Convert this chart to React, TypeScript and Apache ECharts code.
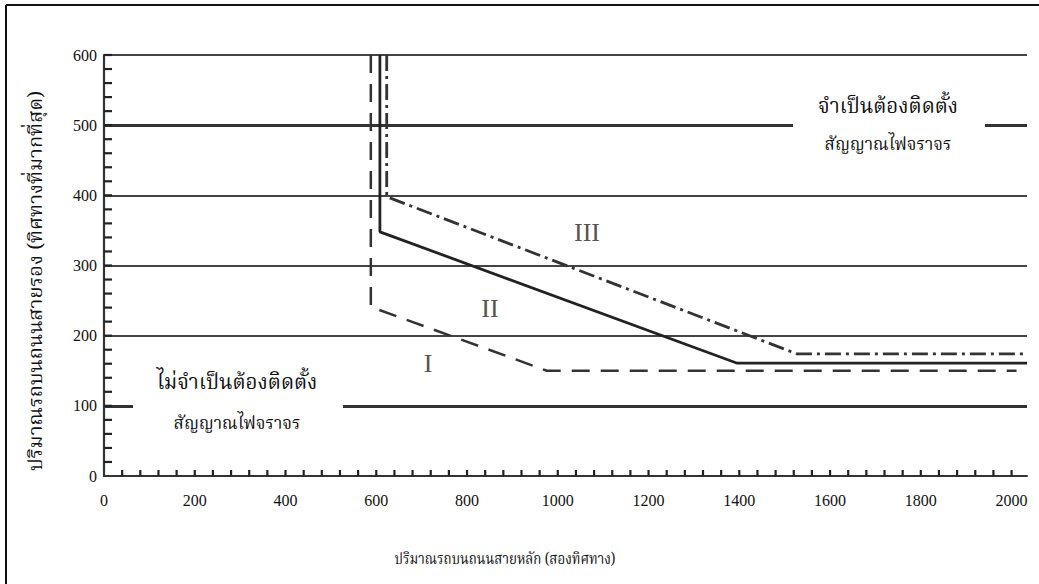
import React, { useEffect, useRef } from "react";
import * as echarts from "echarts";

// ---- data ----
const xLabelValues = [0, 200, 400, 600, 800, 1000, 1200, 1400, 1600, 1800, 2000];
const yLabelValues = [0, 100, 200, 300, 400, 500, 600];

const curveIX = [588, 588, 976, 2011];
const curveIY = [600, 241, 150, 150];
const curveIIX = [608, 608, 1394, 2034];
const curveIIY = [600, 348, 161, 161];
const curveIIIX = [623, 623, 1527, 2029];
const curveIIIY = [600, 398, 174, 174];

const gridValues = [100, 200, 300, 400, 500, 600];
const heavyGridValues = [100, 500];

const zoneNames = ["I", "II", "III"];
const requiredText = ["จำเป็นต้องติดตั้ง", "สัญญาณไฟจราจร"];
const notRequiredText = ["ไม่จำเป็นต้องติดตั้ง", "สัญญาณไฟจราจร"];
const xTitle = "ปริมาณรถบนถนนสายหลัก (สองทิศทาง)";
const yTitle = "ปริมาณรถบนถนนสายรอง (ทิศทางที่มากที่สุด)";

const X_MAX = 2034;
const X_TICK_STEP = 40;
const Y_TICK_STEP = 20;
const SERIF = "'Liberation Serif', 'Times New Roman', serif";
const THAI = "'Noto Serif Thai', 'Noto Sans Thai', 'Loma', 'Garuda', 'Norasi', 'Liberation Serif', 'DejaVu Sans', serif";

const zip = (xs: number[], ys: number[]) => xs.map((x, i) => [x, ys[i]]);

export default function App() {
  const ref = useRef<HTMLDivElement>(null);

  useEffect(() => {
    if (!ref.current) return;
    const chart = echarts.init(ref.current, undefined, { renderer: "svg" });

    const xTicks: number[] = [];
    for (let v = X_TICK_STEP; v <= 2000; v += X_TICK_STEP) xTicks.push(v);
    const yTicks: number[] = [];
    for (let v = Y_TICK_STEP; v <= 600; v += Y_TICK_STEP) yTicks.push(v);

    const txt = (text: string, x: number, y: number, size: number, family: string, fill = "#111", extra: any = {}) => ({
      type: "text",
      x,
      y,
      z: 60,
      ...extra,
      style: {
        text,
        fill,
        fontSize: size,
        fontFamily: family,
        align: "center",
        verticalAlign: "middle",
      },
    });

    const tickSeries = (values: number[], horizontal: boolean) => ({
      type: "custom",
      silent: true,
      clip: false,
      z: 7,
      data: values.map((v) => (horizontal ? [v, 0] : [0, v])),
      renderItem: (_params: any, api: any) => {
        const p = api.coord([api.value(0), api.value(1)]);
        return {
          type: "line",
          shape: horizontal
            ? { x1: p[0], y1: p[1], x2: p[0], y2: p[1] - 6 }
            : { x1: p[0], y1: p[1], x2: p[0] + 8, y2: p[1] },
          style: { stroke: "#222", lineWidth: 2.2 },
        };
      },
    });

    const option: any = {
      animation: false,
      backgroundColor: "#fff",
      grid: { left: 104, right: 12, top: 55, bottom: 108, containLabel: false },
      xAxis: {
        type: "value",
        min: 0,
        max: X_MAX,
        interval: 200,
        axisLine: { show: true, lineStyle: { color: "#333", width: 2 } },
        axisTick: { show: false },
        axisLabel: {
          margin: 16,
          color: "#111",
          fontSize: 16,
          fontFamily: SERIF,
          formatter: (v: number) => (xLabelValues.includes(v) ? String(v) : ""),
        },
        splitLine: { show: false },
      },
      yAxis: {
        type: "value",
        min: 0,
        max: 600,
        interval: 100,
        axisLine: { show: true, onZero: false, lineStyle: { color: "#333", width: 2.2 } },
        axisTick: { show: false },
        axisLabel: {
          margin: 7,
          color: "#111",
          fontSize: 16,
          fontFamily: SERIF,
          formatter: (v: number) => (yLabelValues.includes(v) ? String(v) : ""),
        },
        splitLine: { show: false },
      },
      series: [
        {
          name: "grid",
          type: "line",
          data: [],
          silent: true,
          markLine: {
            silent: true,
            symbol: ["none", "none"],
            label: { show: false },
            data: gridValues.map((v) => ({
              yAxis: v,
              lineStyle: {
                color: heavyGridValues.includes(v) ? "#333" : "#444",
                width: heavyGridValues.includes(v) ? 3 : 1.8,
                type: "solid",
              },
            })),
          },
        },
        tickSeries(xTicks, true),
        tickSeries(yTicks, false),
        {
          name: zoneNames[0],
          type: "line",
          data: zip(curveIX, curveIY),
          symbol: "none",
          lineStyle: { color: "#333", width: 2.5, type: [18, 11] },
          z: 5,
        },
        {
          name: zoneNames[1],
          type: "line",
          data: zip(curveIIX, curveIIY),
          symbol: "none",
          lineStyle: { color: "#222", width: 2.8, type: "solid" },
          z: 5,
        },
        {
          name: zoneNames[2],
          type: "line",
          data: zip(curveIIIX, curveIIIY),
          symbol: "none",
          lineStyle: { color: "#333", width: 2.8, type: [16, 5, 3, 5] },
          z: 5,
        },
      ],
      graphic: [
        // page frame
        { type: "line", z: 70, shape: { x1: 6, y1: 5, x2: 1039, y2: 5 }, style: { stroke: "#111", lineWidth: 2 } },
        { type: "line", z: 70, shape: { x1: 6, y1: 5, x2: 6, y2: 584 }, style: { stroke: "#111", lineWidth: 2 } },
        // white boxes
        { type: "rect", z: 50, shape: { x: 793, y: 73, width: 192, height: 95 }, style: { fill: "#fff" } },
        { type: "rect", z: 50, shape: { x: 133, y: 350, width: 210, height: 97 }, style: { fill: "#fff" } },
        txt(requiredText[0], 888, 107, 20.5, THAI),
        txt(requiredText[1], 888, 145, 17, THAI),
        txt(notRequiredText[0], 237, 383, 20.5, THAI),
        txt(notRequiredText[1], 237, 424, 17, THAI),
        // zone labels
        txt(zoneNames[0], 428, 363, 26, SERIF, "#555"),
        txt(zoneNames[1], 490, 308, 26, SERIF, "#555"),
        txt(zoneNames[2], 587, 232, 26, SERIF, "#555"),
        // axis titles
        txt(xTitle, 505, 560, 16, THAI, "#111", { scaleX: 0.83 }),
        txt(yTitle, 37, 281, 20, THAI, "#111", { rotation: Math.PI / 2 }),
      ],
    };

    chart.setOption(option);
    return () => chart.dispose();
  }, []);

  return (
    <div
      ref={ref}
      style={{ position: "fixed", left: 0, top: 0, width: 1039, height: 584, background: "#fff" }}
    />
  );
}
